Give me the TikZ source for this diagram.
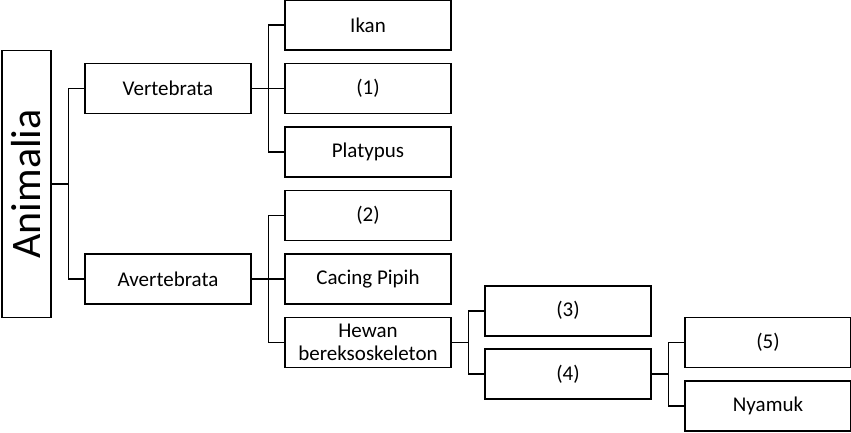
\documentclass[tikz,border=0pt]{standalone}
\usepackage{fontspec}
\setmainfont{Carlito}
\usetikzlibrary{positioning}

\begin{document}
\begin{tikzpicture}[x=1pt,y=-1pt,line width=1.6pt,node distance=63.5pt and 200pt,on grid,
                    every node/.style={draw,line width=1.6pt,font=\fontsize{21}{23}\selectfont},
                    taxon/.style={minimum width=166pt,minimum height=50pt,align=center},
                    fork/.style={draw,line width=1.6pt,
                                 to path={(\tikztostart.east) -- ++(16.5pt,0) |- (\tikztotarget.west)}}]
  \useasboundingbox (0,0) rectangle (851,432);

  \node[taxon] (vert)     at (168,88.5)      {Vertebrata};
  \node[taxon] (one)      [right=of vert]    {(1)};
  \node[taxon] (ikan)     [above=of one]     {Ikan};
  \node[taxon] (platypus) [below=of one]     {Platypus};
  \node[taxon] (two)      [below=of platypus] {(2)};
  \node[taxon] (cacing)   [below=of two]     {Cacing Pipih};
  \node[taxon] (avert)    [left=of cacing]   {Avertebrata};
  \node[taxon] (hewan)    [below=of cacing]  {Hewan\\bereksoskeleton};
  \node[taxon] (three)    [above right=31.75pt and 200pt of hewan] {(3)};
  \node[taxon] (four)     [below=of three]   {(4)};
  \node[taxon] (five)     [above right=31.75pt and 200pt of four]  {(5)};
  \node[taxon] (nyamuk)   [below=of five]    {Nyamuk};
  \node[minimum width=49pt,minimum height=267pt,font=\fontsize{42}{48}\selectfont]
       (animalia) at (26.5,184) {\rotatebox{90}{Animalia}};

  \draw[fork] (animalia) to (vert);
  \draw[fork] (animalia) to (avert);
  \foreach \child in {ikan,one,platypus}
    \draw[fork] (vert) to (\child);
  \foreach \child in {two,cacing,hewan}
    \draw[fork] (avert) to (\child);
  \draw[fork] (hewan) to (three);
  \draw[fork] (hewan) to (four);
  \draw[fork] (four) to (five);
  \draw[fork] (four) to (nyamuk);
\end{tikzpicture}
\end{document}
